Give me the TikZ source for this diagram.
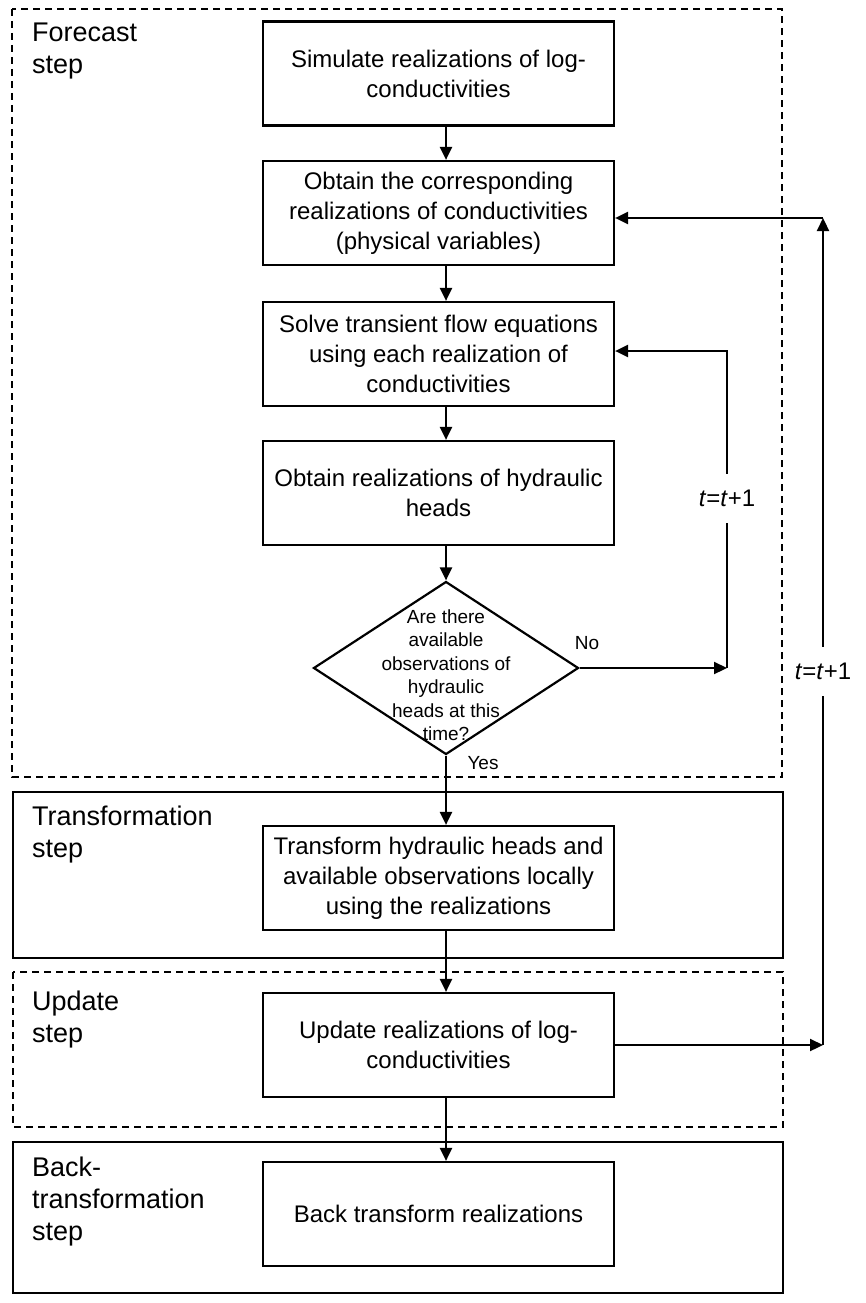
\documentclass[tikz,border=0pt]{standalone}
\usepackage{fontspec}
\setmainfont{Liberation Sans}
\usetikzlibrary{shapes.geometric,arrows.meta}

\begin{document}
\begin{tikzpicture}[x=1pt,y=-1pt,line width=2.2pt,
    box/.style={draw,minimum width=351pt,minimum height=104pt,inner sep=0pt,align=center,font=\fontsize{24}{30}\selectfont},
    decision/.style={draw,diamond,minimum width=265pt,minimum height=173pt,inner sep=0pt},
    frame/.style={draw,line width=2pt},
    dashframe/.style={frame,dash pattern=on 7pt off 5pt},
    steplabel/.style={anchor=north west,align=left,inner sep=0pt,font=\fontsize{27}{32}\selectfont},
    flow/.style={-{Triangle[length=13pt,width=12pt]}},
    small/.style={font=\fontsize{19}{23.5}\selectfont},
    tlabel/.style={fill=white,inner xsep=2pt,inner ysep=16pt,font=\fontsize{24}{28}\selectfont}]
        \fill[white] (0,0) rectangle (865,1303);
        \useasboundingbox (0,0) rectangle (865,1303);
        % stage frames
        \draw[dashframe] (12,9) rectangle (782,777);
        \draw[frame] (13,792) rectangle (783,958);
        \draw[dashframe] (13,972) rectangle (783,1127);
        \draw[frame] (13,1142) rectangle (783,1293);
        \node[steplabel] (lforecast) at (31,22) {Forecast\\step};
        \node[steplabel] (ltransform) at (31,805) {Transformation\\step};
        \node[steplabel] (lupdate) at (31,990) {Update\\step};
        \node[steplabel] (lback) at (31,1156) {Back-\\transformation\\step};
        % boxes
        \node[box] (b1) at (438.5,73.5) {Simulate realizations of log-\\conductivities};
        \node[box] (b2) at (438.5,213) {Obtain the corresponding\\realizations of conductivities\\(physical variables)};
        \node[box] (b3) at (438.5,354) {Solve transient flow equations\\using each realization of\\conductivities};
        \node[box] (b4) at (438.5,493) {Obtain realizations of hydraulic\\heads};
        \node[decision,label={[small,align=center,yshift=-7pt]center:{Are there\\available\\observations of\\hydraulic\\heads at this\\time?}}] (q) at (446,668) {};
        \node[box] (b5) at (438.5,878) {Transform hydraulic heads and\\available observations locally\\using the realizations};
        \node[box] (b6) at (438.5,1045) {Update realizations of log-\\conductivities};
        \node[box] (b7) at (438.5,1214) {Back transform realizations};
        \node[small] (no) at (587,643) {No};
        \node[small] (yes) at (483,763) {Yes};
        % main flow
        \foreach \a/\b in {b1/b2,b2/b3,b3/b4,b5/b6,b6/b7}
            \draw[flow] ([xshift=7.5pt]\a.south) -- ([xshift=7.5pt]\b.north);
        \draw[flow] ([xshift=7.5pt]b4.south) -- (q.north);
        \draw[flow] (q.south) -- ([xshift=7.5pt]b5.north);
        % loops
        \coordinate (c1) at (727,668);
        \coordinate (c2) at (727,351);
        \coordinate (c4) at (823,218);
        \draw[flow] (q.east) -- (c1);
        \draw[flow] (c1) -- node[tlabel,pos=0.535] {\textit{t}=\textit{t}+1} (c2) -- (c2 -| b3.east);
        \draw[flow] (b6.east) -- (b6.east -| c4);
        \draw[flow] (b6.east -| c4) -- node[tlabel,pos=0.452] {\textit{t}=\textit{t}+1} (c4);
        \draw[flow] (c4) -- (c4 -| b2.east);
\end{tikzpicture}
\end{document}
